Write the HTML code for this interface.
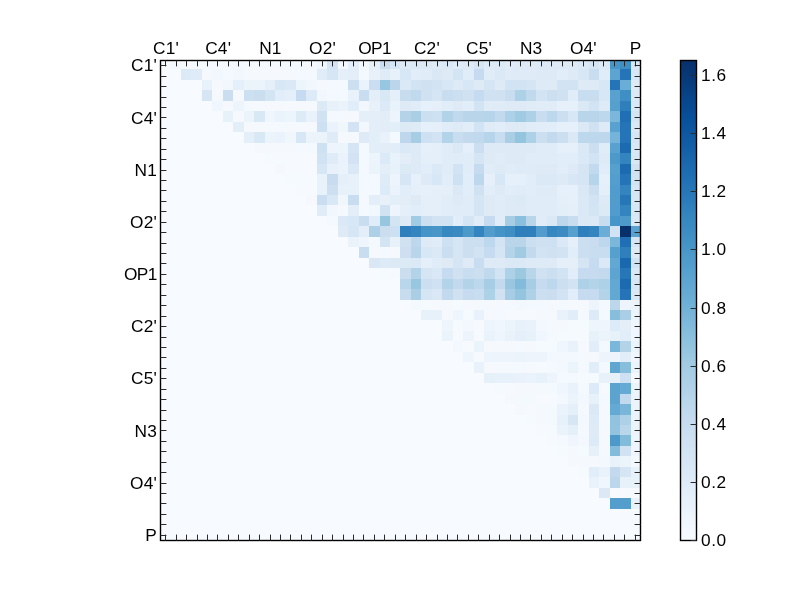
<!DOCTYPE html>
<html><head><meta charset="utf-8"><title>heatmap</title>
<style>
html,body{margin:0;padding:0;background:#fff;}
body{width:800px;height:600px;overflow:hidden;position:relative;font-family:"Liberation Sans",sans-serif;}
svg{position:absolute;left:0;top:0;}
text{font-family:"Liberation Sans",sans-serif;fill:#000;}
</style></head><body>
<svg width="800" height="600" viewBox="0 0 800 600">
<rect x="0" y="0" width="800" height="600" fill="#ffffff"/>
<rect x="160" y="60" width="480" height="480" fill="#f7fbff"/>
<g shape-rendering="crispEdges">
<rect x="170" y="60" width="11" height="9" fill="#f2f8fd"/>
<rect x="181" y="60" width="10" height="9" fill="#f6faff"/>
<rect x="191" y="60" width="11" height="9" fill="#f5f9fe"/>
<rect x="202" y="60" width="10" height="9" fill="#f3f9fe"/>
<rect x="212" y="60" width="11" height="9" fill="#f5f9fe"/>
<rect x="223" y="60" width="10" height="9" fill="#f3f9fe"/>
<rect x="233" y="60" width="11" height="9" fill="#f2f8fd"/>
<rect x="244" y="60" width="31" height="9" fill="#f5f9fe"/>
<rect x="275" y="60" width="31" height="9" fill="#f3f9fe"/>
<rect x="306" y="60" width="11" height="9" fill="#f5f9fe"/>
<rect x="317" y="60" width="10" height="9" fill="#eff6fd"/>
<rect x="327" y="60" width="11" height="9" fill="#d4e4f4"/>
<rect x="338" y="60" width="10" height="9" fill="#f3f9fe"/>
<rect x="348" y="60" width="11" height="9" fill="#e4eff9"/>
<rect x="359" y="60" width="10" height="9" fill="#f3f9fe"/>
<rect x="369" y="60" width="11" height="9" fill="#e6f0f9"/>
<rect x="380" y="60" width="10" height="9" fill="#cadef0"/>
<rect x="390" y="60" width="10" height="9" fill="#d6e6f4"/>
<rect x="400" y="60" width="11" height="9" fill="#deebf7"/>
<rect x="411" y="60" width="21" height="9" fill="#dbe9f6"/>
<rect x="432" y="60" width="10" height="9" fill="#deebf7"/>
<rect x="442" y="60" width="11" height="9" fill="#dbe9f6"/>
<rect x="453" y="60" width="10" height="9" fill="#e0ecf8"/>
<rect x="463" y="60" width="11" height="9" fill="#deebf7"/>
<rect x="474" y="60" width="10" height="9" fill="#d5e5f4"/>
<rect x="484" y="60" width="21" height="9" fill="#deebf7"/>
<rect x="505" y="60" width="10" height="9" fill="#e0ecf8"/>
<rect x="515" y="60" width="63" height="9" fill="#deebf7"/>
<rect x="578" y="60" width="11" height="9" fill="#dbe9f6"/>
<rect x="589" y="60" width="10" height="9" fill="#d5e5f4"/>
<rect x="599" y="60" width="11" height="9" fill="#deebf7"/>
<rect x="610" y="60" width="10" height="9" fill="#4896c9"/>
<rect x="620" y="60" width="11" height="9" fill="#3f8fc5"/>
<rect x="631" y="60" width="9" height="9" fill="#dbe9f6"/>
<rect x="181" y="69" width="10" height="11" fill="#dceaf6"/>
<rect x="191" y="69" width="11" height="11" fill="#dfecf7"/>
<rect x="202" y="69" width="10" height="11" fill="#f5f9fe"/>
<rect x="212" y="69" width="11" height="11" fill="#f1f7fd"/>
<rect x="223" y="69" width="10" height="11" fill="#f3f9fe"/>
<rect x="233" y="69" width="11" height="11" fill="#f1f7fd"/>
<rect x="244" y="69" width="52" height="11" fill="#f5f9fe"/>
<rect x="296" y="69" width="21" height="11" fill="#f3f9fe"/>
<rect x="317" y="69" width="10" height="11" fill="#e0ecf8"/>
<rect x="327" y="69" width="11" height="11" fill="#d6e6f4"/>
<rect x="338" y="69" width="10" height="11" fill="#e4eff9"/>
<rect x="348" y="69" width="11" height="11" fill="#e3eef9"/>
<rect x="359" y="69" width="10" height="11" fill="#f3f9fe"/>
<rect x="369" y="69" width="11" height="11" fill="#e8f1fa"/>
<rect x="380" y="69" width="10" height="11" fill="#dfecf7"/>
<rect x="390" y="69" width="10" height="11" fill="#e7f1fa"/>
<rect x="400" y="69" width="11" height="11" fill="#d8e7f5"/>
<rect x="411" y="69" width="10" height="11" fill="#e1edf8"/>
<rect x="421" y="69" width="11" height="11" fill="#e0ecf8"/>
<rect x="432" y="69" width="10" height="11" fill="#dae8f6"/>
<rect x="442" y="69" width="11" height="11" fill="#deebf7"/>
<rect x="453" y="69" width="10" height="11" fill="#d3e4f3"/>
<rect x="463" y="69" width="11" height="11" fill="#e0ecf8"/>
<rect x="474" y="69" width="10" height="11" fill="#c6dbef"/>
<rect x="484" y="69" width="11" height="11" fill="#e0ecf8"/>
<rect x="495" y="69" width="10" height="11" fill="#dbe9f6"/>
<rect x="505" y="69" width="31" height="11" fill="#dfecf7"/>
<rect x="536" y="69" width="21" height="11" fill="#deebf7"/>
<rect x="557" y="69" width="11" height="11" fill="#e1edf8"/>
<rect x="568" y="69" width="10" height="11" fill="#deebf7"/>
<rect x="578" y="69" width="11" height="11" fill="#d8e7f5"/>
<rect x="589" y="69" width="10" height="11" fill="#c9ddf0"/>
<rect x="599" y="69" width="11" height="11" fill="#e0ecf8"/>
<rect x="610" y="69" width="10" height="11" fill="#5da4d0"/>
<rect x="620" y="69" width="11" height="11" fill="#2474b7"/>
<rect x="631" y="69" width="9" height="11" fill="#d8e7f5"/>
<rect x="202" y="80" width="10" height="10" fill="#e8f2fa"/>
<rect x="212" y="80" width="11" height="10" fill="#f5f9fe"/>
<rect x="223" y="80" width="10" height="10" fill="#f1f7fd"/>
<rect x="233" y="80" width="11" height="10" fill="#e5eff9"/>
<rect x="244" y="80" width="21" height="10" fill="#ebf3fb"/>
<rect x="265" y="80" width="10" height="10" fill="#e5eff9"/>
<rect x="275" y="80" width="10" height="10" fill="#d8e7f5"/>
<rect x="285" y="80" width="11" height="10" fill="#dbe9f6"/>
<rect x="296" y="80" width="10" height="10" fill="#edf5fc"/>
<rect x="306" y="80" width="11" height="10" fill="#f1f7fd"/>
<rect x="317" y="80" width="10" height="10" fill="#f5f9fe"/>
<rect x="327" y="80" width="21" height="10" fill="#f3f9fe"/>
<rect x="348" y="80" width="11" height="10" fill="#ccdff1"/>
<rect x="359" y="80" width="10" height="10" fill="#eaf3fb"/>
<rect x="369" y="80" width="11" height="10" fill="#cbdef1"/>
<rect x="380" y="80" width="10" height="10" fill="#97c6e0"/>
<rect x="390" y="80" width="10" height="10" fill="#bbd6eb"/>
<rect x="400" y="80" width="11" height="10" fill="#dbe9f6"/>
<rect x="411" y="80" width="10" height="10" fill="#d2e3f3"/>
<rect x="421" y="80" width="11" height="10" fill="#d0e1f2"/>
<rect x="432" y="80" width="10" height="10" fill="#d2e3f3"/>
<rect x="442" y="80" width="11" height="10" fill="#d8e7f5"/>
<rect x="453" y="80" width="10" height="10" fill="#deebf7"/>
<rect x="463" y="80" width="11" height="10" fill="#d8e7f5"/>
<rect x="474" y="80" width="10" height="10" fill="#deebf7"/>
<rect x="484" y="80" width="11" height="10" fill="#d5e5f4"/>
<rect x="495" y="80" width="10" height="10" fill="#deebf7"/>
<rect x="505" y="80" width="21" height="10" fill="#d2e3f3"/>
<rect x="526" y="80" width="10" height="10" fill="#d5e5f4"/>
<rect x="536" y="80" width="21" height="10" fill="#deebf7"/>
<rect x="557" y="80" width="21" height="10" fill="#d2e3f3"/>
<rect x="578" y="80" width="21" height="10" fill="#deebf7"/>
<rect x="599" y="80" width="11" height="10" fill="#d8e7f5"/>
<rect x="610" y="80" width="10" height="10" fill="#2474b7"/>
<rect x="620" y="80" width="11" height="10" fill="#6aadd6"/>
<rect x="631" y="80" width="9" height="10" fill="#deebf7"/>
<rect x="202" y="90" width="10" height="11" fill="#d7e6f5"/>
<rect x="212" y="90" width="11" height="11" fill="#f5f9fe"/>
<rect x="223" y="90" width="10" height="11" fill="#cadef0"/>
<rect x="233" y="90" width="11" height="11" fill="#f5f9fe"/>
<rect x="244" y="90" width="10" height="11" fill="#cde0f1"/>
<rect x="254" y="90" width="11" height="11" fill="#cadef0"/>
<rect x="265" y="90" width="10" height="11" fill="#d3e4f3"/>
<rect x="275" y="90" width="10" height="11" fill="#e1edf8"/>
<rect x="285" y="90" width="11" height="11" fill="#e4eff9"/>
<rect x="296" y="90" width="10" height="11" fill="#c6dbef"/>
<rect x="306" y="90" width="11" height="11" fill="#ddeaf7"/>
<rect x="317" y="90" width="10" height="11" fill="#f1f7fd"/>
<rect x="327" y="90" width="21" height="11" fill="#f3f9fe"/>
<rect x="348" y="90" width="11" height="11" fill="#e9f2fb"/>
<rect x="359" y="90" width="10" height="11" fill="#c9ddf0"/>
<rect x="369" y="90" width="11" height="11" fill="#e3eef9"/>
<rect x="380" y="90" width="10" height="11" fill="#d9e8f5"/>
<rect x="390" y="90" width="10" height="11" fill="#e5eff9"/>
<rect x="400" y="90" width="11" height="11" fill="#c7dcef"/>
<rect x="411" y="90" width="10" height="11" fill="#c1d9ed"/>
<rect x="421" y="90" width="11" height="11" fill="#d0e1f2"/>
<rect x="432" y="90" width="10" height="11" fill="#d5e5f4"/>
<rect x="442" y="90" width="11" height="11" fill="#c9ddf0"/>
<rect x="453" y="90" width="10" height="11" fill="#ccdff1"/>
<rect x="463" y="90" width="11" height="11" fill="#d0e1f2"/>
<rect x="474" y="90" width="10" height="11" fill="#c6dbef"/>
<rect x="484" y="90" width="21" height="11" fill="#d0e1f2"/>
<rect x="505" y="90" width="10" height="11" fill="#c9ddf0"/>
<rect x="515" y="90" width="11" height="11" fill="#add1e6"/>
<rect x="526" y="90" width="10" height="11" fill="#c1d9ed"/>
<rect x="536" y="90" width="11" height="11" fill="#d2e3f3"/>
<rect x="547" y="90" width="10" height="11" fill="#ccdff1"/>
<rect x="557" y="90" width="11" height="11" fill="#d0e1f2"/>
<rect x="568" y="90" width="10" height="11" fill="#e0ecf8"/>
<rect x="578" y="90" width="21" height="11" fill="#c9ddf0"/>
<rect x="599" y="90" width="11" height="11" fill="#d8e7f5"/>
<rect x="610" y="90" width="10" height="11" fill="#59a2cf"/>
<rect x="620" y="90" width="11" height="11" fill="#3f8fc5"/>
<rect x="631" y="90" width="9" height="11" fill="#dbe9f6"/>
<rect x="212" y="101" width="11" height="10" fill="#f0f6fd"/>
<rect x="223" y="101" width="10" height="10" fill="#f5f9fe"/>
<rect x="233" y="101" width="11" height="10" fill="#edf5fc"/>
<rect x="244" y="101" width="10" height="10" fill="#f3f9fe"/>
<rect x="254" y="101" width="63" height="10" fill="#f5f9fe"/>
<rect x="317" y="101" width="10" height="10" fill="#dceaf6"/>
<rect x="327" y="101" width="11" height="10" fill="#e8f1fa"/>
<rect x="338" y="101" width="10" height="10" fill="#eaf2fb"/>
<rect x="348" y="101" width="11" height="10" fill="#e1edf8"/>
<rect x="359" y="101" width="10" height="10" fill="#f1f7fd"/>
<rect x="369" y="101" width="11" height="10" fill="#e8f1fa"/>
<rect x="380" y="101" width="10" height="10" fill="#dce9f6"/>
<rect x="390" y="101" width="10" height="10" fill="#e8f2fa"/>
<rect x="400" y="101" width="11" height="10" fill="#deebf7"/>
<rect x="411" y="101" width="10" height="10" fill="#e0ecf8"/>
<rect x="421" y="101" width="11" height="10" fill="#e6f0fa"/>
<rect x="432" y="101" width="10" height="10" fill="#e4eff9"/>
<rect x="442" y="101" width="11" height="10" fill="#e1edf8"/>
<rect x="453" y="101" width="10" height="10" fill="#deebf7"/>
<rect x="463" y="101" width="11" height="10" fill="#e1edf8"/>
<rect x="474" y="101" width="10" height="10" fill="#d2e3f3"/>
<rect x="484" y="101" width="21" height="10" fill="#dfecf7"/>
<rect x="505" y="101" width="21" height="10" fill="#deebf7"/>
<rect x="526" y="101" width="10" height="10" fill="#dfecf7"/>
<rect x="536" y="101" width="21" height="10" fill="#e0ecf8"/>
<rect x="557" y="101" width="21" height="10" fill="#e6f0fa"/>
<rect x="578" y="101" width="11" height="10" fill="#dbe9f6"/>
<rect x="589" y="101" width="10" height="10" fill="#d2e3f3"/>
<rect x="599" y="101" width="11" height="10" fill="#deebf7"/>
<rect x="610" y="101" width="10" height="10" fill="#56a0ce"/>
<rect x="620" y="101" width="11" height="10" fill="#2f7fbc"/>
<rect x="631" y="101" width="9" height="10" fill="#dbe9f6"/>
<rect x="223" y="111" width="10" height="11" fill="#e7f1fa"/>
<rect x="233" y="111" width="11" height="11" fill="#f5f9fe"/>
<rect x="244" y="111" width="10" height="11" fill="#ebf3fb"/>
<rect x="254" y="111" width="11" height="11" fill="#d9e8f5"/>
<rect x="265" y="111" width="10" height="11" fill="#f0f6fd"/>
<rect x="275" y="111" width="10" height="11" fill="#eaf3fb"/>
<rect x="285" y="111" width="11" height="11" fill="#ecf4fc"/>
<rect x="296" y="111" width="10" height="11" fill="#ddebf7"/>
<rect x="306" y="111" width="11" height="11" fill="#e9f2fa"/>
<rect x="317" y="111" width="10" height="11" fill="#d1e2f3"/>
<rect x="327" y="111" width="11" height="11" fill="#f3f9fe"/>
<rect x="338" y="111" width="21" height="11" fill="#f5f9fe"/>
<rect x="359" y="111" width="10" height="11" fill="#e4eff9"/>
<rect x="369" y="111" width="11" height="11" fill="#e3eef9"/>
<rect x="380" y="111" width="10" height="11" fill="#e2edf8"/>
<rect x="390" y="111" width="10" height="11" fill="#edf4fc"/>
<rect x="400" y="111" width="11" height="11" fill="#b4d3e9"/>
<rect x="411" y="111" width="10" height="11" fill="#aacfe5"/>
<rect x="421" y="111" width="11" height="11" fill="#ccdff1"/>
<rect x="432" y="111" width="10" height="11" fill="#cee1f2"/>
<rect x="442" y="111" width="11" height="11" fill="#b3d3e8"/>
<rect x="453" y="111" width="10" height="11" fill="#c1d9ed"/>
<rect x="463" y="111" width="21" height="11" fill="#b9d5ea"/>
<rect x="484" y="111" width="11" height="11" fill="#b7d5ea"/>
<rect x="495" y="111" width="10" height="11" fill="#c3daee"/>
<rect x="505" y="111" width="10" height="11" fill="#add1e6"/>
<rect x="515" y="111" width="11" height="11" fill="#a0cbe2"/>
<rect x="526" y="111" width="10" height="11" fill="#afd1e7"/>
<rect x="536" y="111" width="11" height="11" fill="#c9ddf0"/>
<rect x="547" y="111" width="10" height="11" fill="#bdd7ec"/>
<rect x="557" y="111" width="11" height="11" fill="#ccdff1"/>
<rect x="568" y="111" width="10" height="11" fill="#d8e7f5"/>
<rect x="578" y="111" width="21" height="11" fill="#b9d5ea"/>
<rect x="599" y="111" width="11" height="11" fill="#bdd7ec"/>
<rect x="610" y="111" width="10" height="11" fill="#7bb7d9"/>
<rect x="620" y="111" width="11" height="11" fill="#206fb4"/>
<rect x="631" y="111" width="9" height="11" fill="#d5e5f4"/>
<rect x="233" y="122" width="11" height="10" fill="#e2eef8"/>
<rect x="244" y="122" width="31" height="10" fill="#f5f9fe"/>
<rect x="275" y="122" width="10" height="10" fill="#f3f9fe"/>
<rect x="285" y="122" width="32" height="10" fill="#f5f9fe"/>
<rect x="317" y="122" width="10" height="10" fill="#cee1f2"/>
<rect x="327" y="122" width="11" height="10" fill="#eaf3fb"/>
<rect x="338" y="122" width="10" height="10" fill="#eff6fc"/>
<rect x="348" y="122" width="11" height="10" fill="#d3e3f3"/>
<rect x="359" y="122" width="10" height="10" fill="#f1f7fd"/>
<rect x="369" y="122" width="11" height="10" fill="#e3eef9"/>
<rect x="380" y="122" width="10" height="10" fill="#e2edf8"/>
<rect x="390" y="122" width="10" height="10" fill="#e2eef8"/>
<rect x="400" y="122" width="11" height="10" fill="#dceaf6"/>
<rect x="411" y="122" width="10" height="10" fill="#deebf7"/>
<rect x="421" y="122" width="11" height="10" fill="#e6f0fa"/>
<rect x="432" y="122" width="10" height="10" fill="#e4eff9"/>
<rect x="442" y="122" width="11" height="10" fill="#e0ecf8"/>
<rect x="453" y="122" width="10" height="10" fill="#deebf7"/>
<rect x="463" y="122" width="11" height="10" fill="#e1edf8"/>
<rect x="474" y="122" width="10" height="10" fill="#d2e3f3"/>
<rect x="484" y="122" width="11" height="10" fill="#dfecf7"/>
<rect x="495" y="122" width="10" height="10" fill="#e1edf8"/>
<rect x="505" y="122" width="21" height="10" fill="#deebf7"/>
<rect x="526" y="122" width="10" height="10" fill="#e0ecf8"/>
<rect x="536" y="122" width="21" height="10" fill="#e1edf8"/>
<rect x="557" y="122" width="21" height="10" fill="#e6f0fa"/>
<rect x="578" y="122" width="11" height="10" fill="#dbe9f6"/>
<rect x="589" y="122" width="10" height="10" fill="#d0e1f2"/>
<rect x="599" y="122" width="11" height="10" fill="#deebf7"/>
<rect x="610" y="122" width="10" height="10" fill="#59a2cf"/>
<rect x="620" y="122" width="11" height="10" fill="#2474b7"/>
<rect x="631" y="122" width="9" height="10" fill="#dbe9f6"/>
<rect x="244" y="132" width="10" height="11" fill="#e5eff9"/>
<rect x="254" y="132" width="11" height="11" fill="#d9e8f5"/>
<rect x="265" y="132" width="10" height="11" fill="#ebf3fb"/>
<rect x="275" y="132" width="10" height="11" fill="#eaf3fb"/>
<rect x="285" y="132" width="11" height="11" fill="#eff6fc"/>
<rect x="296" y="132" width="10" height="11" fill="#d7e7f5"/>
<rect x="306" y="132" width="21" height="11" fill="#ebf3fb"/>
<rect x="327" y="132" width="11" height="11" fill="#dfecf7"/>
<rect x="338" y="132" width="21" height="11" fill="#f5f9fe"/>
<rect x="359" y="132" width="10" height="11" fill="#deebf7"/>
<rect x="369" y="132" width="11" height="11" fill="#e2eef8"/>
<rect x="380" y="132" width="10" height="11" fill="#e9f2fa"/>
<rect x="390" y="132" width="10" height="11" fill="#f3f9fe"/>
<rect x="400" y="132" width="11" height="11" fill="#bed7ec"/>
<rect x="411" y="132" width="10" height="11" fill="#a6cde4"/>
<rect x="421" y="132" width="11" height="11" fill="#cee1f2"/>
<rect x="432" y="132" width="10" height="11" fill="#d2e3f3"/>
<rect x="442" y="132" width="11" height="11" fill="#b3d3e8"/>
<rect x="453" y="132" width="10" height="11" fill="#c9ddf0"/>
<rect x="463" y="132" width="11" height="11" fill="#c3daee"/>
<rect x="474" y="132" width="10" height="11" fill="#c1d9ed"/>
<rect x="484" y="132" width="11" height="11" fill="#b7d5ea"/>
<rect x="495" y="132" width="10" height="11" fill="#c9ddf0"/>
<rect x="505" y="132" width="10" height="11" fill="#aacfe5"/>
<rect x="515" y="132" width="11" height="11" fill="#94c5df"/>
<rect x="526" y="132" width="10" height="11" fill="#add1e6"/>
<rect x="536" y="132" width="11" height="11" fill="#ccdff1"/>
<rect x="547" y="132" width="10" height="11" fill="#c3daee"/>
<rect x="557" y="132" width="11" height="11" fill="#ccdff1"/>
<rect x="568" y="132" width="10" height="11" fill="#dbe9f6"/>
<rect x="578" y="132" width="32" height="11" fill="#bdd7ec"/>
<rect x="610" y="132" width="10" height="11" fill="#75b3d8"/>
<rect x="620" y="132" width="11" height="11" fill="#2474b7"/>
<rect x="631" y="132" width="9" height="11" fill="#d5e5f4"/>
<rect x="254" y="143" width="42" height="10" fill="#f5f9fe"/>
<rect x="296" y="143" width="21" height="10" fill="#f3f9fe"/>
<rect x="317" y="143" width="10" height="10" fill="#cee1f2"/>
<rect x="327" y="143" width="11" height="10" fill="#edf4fc"/>
<rect x="338" y="143" width="10" height="10" fill="#ecf4fc"/>
<rect x="348" y="143" width="11" height="10" fill="#d5e5f4"/>
<rect x="359" y="143" width="10" height="10" fill="#f3f9fe"/>
<rect x="369" y="143" width="11" height="10" fill="#e2eef8"/>
<rect x="380" y="143" width="10" height="10" fill="#e2edf8"/>
<rect x="390" y="143" width="10" height="10" fill="#e1edf8"/>
<rect x="400" y="143" width="11" height="10" fill="#dbe9f6"/>
<rect x="411" y="143" width="10" height="10" fill="#deebf7"/>
<rect x="421" y="143" width="11" height="10" fill="#e6f0fa"/>
<rect x="432" y="143" width="10" height="10" fill="#e4eff9"/>
<rect x="442" y="143" width="11" height="10" fill="#e0ecf8"/>
<rect x="453" y="143" width="10" height="10" fill="#dbe9f6"/>
<rect x="463" y="143" width="11" height="10" fill="#e4eff9"/>
<rect x="474" y="143" width="10" height="10" fill="#ccdff1"/>
<rect x="484" y="143" width="52" height="10" fill="#deebf7"/>
<rect x="536" y="143" width="21" height="10" fill="#e0ecf8"/>
<rect x="557" y="143" width="21" height="10" fill="#e6f0fa"/>
<rect x="578" y="143" width="11" height="10" fill="#dbe9f6"/>
<rect x="589" y="143" width="10" height="10" fill="#ccdff1"/>
<rect x="599" y="143" width="11" height="10" fill="#e0ecf8"/>
<rect x="610" y="143" width="10" height="10" fill="#59a2cf"/>
<rect x="620" y="143" width="11" height="10" fill="#1c6bb0"/>
<rect x="631" y="143" width="9" height="10" fill="#d8e7f5"/>
<rect x="265" y="153" width="20" height="11" fill="#f5fafe"/>
<rect x="285" y="153" width="32" height="11" fill="#f6faff"/>
<rect x="317" y="153" width="10" height="11" fill="#d1e2f3"/>
<rect x="327" y="153" width="11" height="11" fill="#dfecf7"/>
<rect x="338" y="153" width="10" height="11" fill="#eaf2fb"/>
<rect x="348" y="153" width="11" height="11" fill="#d3e3f3"/>
<rect x="359" y="153" width="10" height="11" fill="#f3f9fe"/>
<rect x="369" y="153" width="11" height="11" fill="#edf5fc"/>
<rect x="380" y="153" width="10" height="11" fill="#dce9f6"/>
<rect x="390" y="153" width="10" height="11" fill="#e8f2fa"/>
<rect x="400" y="153" width="11" height="11" fill="#e2edf8"/>
<rect x="411" y="153" width="10" height="11" fill="#deebf7"/>
<rect x="421" y="153" width="21" height="11" fill="#e4eff9"/>
<rect x="442" y="153" width="32" height="11" fill="#e0ecf8"/>
<rect x="474" y="153" width="10" height="11" fill="#d5e5f4"/>
<rect x="484" y="153" width="11" height="11" fill="#deebf7"/>
<rect x="495" y="153" width="10" height="11" fill="#e0ecf8"/>
<rect x="505" y="153" width="21" height="11" fill="#deebf7"/>
<rect x="526" y="153" width="31" height="11" fill="#e0ecf8"/>
<rect x="557" y="153" width="21" height="11" fill="#e1edf8"/>
<rect x="578" y="153" width="11" height="11" fill="#dbe9f6"/>
<rect x="589" y="153" width="10" height="11" fill="#d2e3f3"/>
<rect x="599" y="153" width="11" height="11" fill="#deebf7"/>
<rect x="610" y="153" width="10" height="11" fill="#4c99ca"/>
<rect x="620" y="153" width="11" height="11" fill="#3484bf"/>
<rect x="631" y="153" width="9" height="11" fill="#d8e7f5"/>
<rect x="275" y="164" width="10" height="10" fill="#f5f9fe"/>
<rect x="285" y="164" width="32" height="10" fill="#f6faff"/>
<rect x="317" y="164" width="10" height="10" fill="#d6e6f4"/>
<rect x="327" y="164" width="11" height="10" fill="#e8f1fa"/>
<rect x="338" y="164" width="10" height="10" fill="#eaf2fb"/>
<rect x="348" y="164" width="11" height="10" fill="#dbe9f6"/>
<rect x="359" y="164" width="10" height="10" fill="#f3f9fe"/>
<rect x="369" y="164" width="11" height="10" fill="#ebf3fb"/>
<rect x="380" y="164" width="10" height="10" fill="#e3eef9"/>
<rect x="390" y="164" width="10" height="10" fill="#e7f1fa"/>
<rect x="400" y="164" width="11" height="10" fill="#dceaf6"/>
<rect x="411" y="164" width="10" height="10" fill="#deebf7"/>
<rect x="421" y="164" width="11" height="10" fill="#e1edf8"/>
<rect x="432" y="164" width="10" height="10" fill="#dbe9f6"/>
<rect x="442" y="164" width="11" height="10" fill="#e0ecf8"/>
<rect x="453" y="164" width="10" height="10" fill="#d2e3f3"/>
<rect x="463" y="164" width="11" height="10" fill="#e0ecf8"/>
<rect x="474" y="164" width="10" height="10" fill="#c6dbef"/>
<rect x="484" y="164" width="11" height="10" fill="#e0ecf8"/>
<rect x="495" y="164" width="10" height="10" fill="#deebf7"/>
<rect x="505" y="164" width="10" height="10" fill="#e0ecf8"/>
<rect x="515" y="164" width="21" height="10" fill="#dfecf7"/>
<rect x="536" y="164" width="21" height="10" fill="#deebf7"/>
<rect x="557" y="164" width="11" height="10" fill="#e1edf8"/>
<rect x="568" y="164" width="10" height="10" fill="#deebf7"/>
<rect x="578" y="164" width="11" height="10" fill="#d5e5f4"/>
<rect x="589" y="164" width="10" height="10" fill="#c3daee"/>
<rect x="599" y="164" width="11" height="10" fill="#e0ecf8"/>
<rect x="610" y="164" width="10" height="10" fill="#56a0ce"/>
<rect x="620" y="164" width="11" height="10" fill="#1c6bb0"/>
<rect x="631" y="164" width="9" height="10" fill="#d0e1f2"/>
<rect x="285" y="174" width="21" height="11" fill="#f5fafe"/>
<rect x="306" y="174" width="11" height="11" fill="#f6faff"/>
<rect x="317" y="174" width="10" height="11" fill="#e8f2fa"/>
<rect x="327" y="174" width="11" height="11" fill="#c7dcef"/>
<rect x="338" y="174" width="10" height="11" fill="#e5eff9"/>
<rect x="348" y="174" width="11" height="11" fill="#e7f1fa"/>
<rect x="359" y="174" width="21" height="11" fill="#f3f9fe"/>
<rect x="380" y="174" width="10" height="11" fill="#dfecf7"/>
<rect x="390" y="174" width="10" height="11" fill="#edf4fc"/>
<rect x="400" y="174" width="11" height="11" fill="#d6e6f4"/>
<rect x="411" y="174" width="10" height="11" fill="#e6f0fa"/>
<rect x="421" y="174" width="11" height="11" fill="#deebf7"/>
<rect x="432" y="174" width="10" height="11" fill="#d8e7f5"/>
<rect x="442" y="174" width="11" height="11" fill="#e1edf8"/>
<rect x="453" y="174" width="10" height="11" fill="#cee1f2"/>
<rect x="463" y="174" width="11" height="11" fill="#e1edf8"/>
<rect x="474" y="174" width="10" height="11" fill="#bdd7ec"/>
<rect x="484" y="174" width="11" height="11" fill="#e6f0fa"/>
<rect x="495" y="174" width="10" height="11" fill="#d8e7f5"/>
<rect x="505" y="174" width="21" height="11" fill="#e6f0fa"/>
<rect x="526" y="174" width="10" height="11" fill="#e1edf8"/>
<rect x="536" y="174" width="21" height="11" fill="#dbe9f6"/>
<rect x="557" y="174" width="11" height="11" fill="#deebf7"/>
<rect x="568" y="174" width="10" height="11" fill="#d8e7f5"/>
<rect x="578" y="174" width="11" height="11" fill="#d5e5f4"/>
<rect x="589" y="174" width="10" height="11" fill="#b7d5ea"/>
<rect x="599" y="174" width="11" height="11" fill="#e6f0fa"/>
<rect x="610" y="174" width="10" height="11" fill="#549ecd"/>
<rect x="620" y="174" width="11" height="11" fill="#2474b7"/>
<rect x="631" y="174" width="9" height="11" fill="#d2e3f3"/>
<rect x="296" y="185" width="21" height="10" fill="#f6faff"/>
<rect x="317" y="185" width="10" height="10" fill="#e8f2fa"/>
<rect x="327" y="185" width="11" height="10" fill="#cddff1"/>
<rect x="338" y="185" width="21" height="10" fill="#e7f1fa"/>
<rect x="359" y="185" width="21" height="10" fill="#f3f9fe"/>
<rect x="380" y="185" width="10" height="10" fill="#ddeaf7"/>
<rect x="390" y="185" width="10" height="10" fill="#eaf2fb"/>
<rect x="400" y="185" width="11" height="10" fill="#e1edf8"/>
<rect x="411" y="185" width="10" height="10" fill="#e4eff9"/>
<rect x="421" y="185" width="11" height="10" fill="#e6f0fa"/>
<rect x="432" y="185" width="21" height="10" fill="#e4eff9"/>
<rect x="453" y="185" width="10" height="10" fill="#dbe9f6"/>
<rect x="463" y="185" width="11" height="10" fill="#e1edf8"/>
<rect x="474" y="185" width="10" height="10" fill="#d0e1f2"/>
<rect x="484" y="185" width="11" height="10" fill="#e1edf8"/>
<rect x="495" y="185" width="10" height="10" fill="#deebf7"/>
<rect x="505" y="185" width="10" height="10" fill="#e1edf8"/>
<rect x="515" y="185" width="11" height="10" fill="#e0ecf8"/>
<rect x="526" y="185" width="10" height="10" fill="#e1edf8"/>
<rect x="536" y="185" width="21" height="10" fill="#dfecf7"/>
<rect x="557" y="185" width="21" height="10" fill="#e6f0fa"/>
<rect x="578" y="185" width="11" height="10" fill="#dae8f6"/>
<rect x="589" y="185" width="10" height="10" fill="#ccdff1"/>
<rect x="599" y="185" width="11" height="10" fill="#e4eff9"/>
<rect x="610" y="185" width="10" height="10" fill="#519ccc"/>
<rect x="620" y="185" width="11" height="10" fill="#3484bf"/>
<rect x="631" y="185" width="9" height="10" fill="#d7e6f5"/>
<rect x="306" y="195" width="11" height="10" fill="#f5f9fe"/>
<rect x="317" y="195" width="10" height="10" fill="#cbdef1"/>
<rect x="327" y="195" width="11" height="10" fill="#d9e8f5"/>
<rect x="338" y="195" width="10" height="10" fill="#eff6fc"/>
<rect x="348" y="195" width="11" height="10" fill="#c9ddf0"/>
<rect x="359" y="195" width="10" height="10" fill="#f3f9fe"/>
<rect x="369" y="195" width="11" height="10" fill="#e3eef9"/>
<rect x="380" y="195" width="10" height="10" fill="#e8f1fa"/>
<rect x="390" y="195" width="10" height="10" fill="#e2eef8"/>
<rect x="400" y="195" width="11" height="10" fill="#e2edf8"/>
<rect x="411" y="195" width="10" height="10" fill="#deebf7"/>
<rect x="421" y="195" width="21" height="10" fill="#e4eff9"/>
<rect x="442" y="195" width="11" height="10" fill="#e1edf8"/>
<rect x="453" y="195" width="10" height="10" fill="#deebf7"/>
<rect x="463" y="195" width="11" height="10" fill="#e0ecf8"/>
<rect x="474" y="195" width="10" height="10" fill="#d5e5f4"/>
<rect x="484" y="195" width="11" height="10" fill="#deebf7"/>
<rect x="495" y="195" width="10" height="10" fill="#e0ecf8"/>
<rect x="505" y="195" width="10" height="10" fill="#deebf7"/>
<rect x="515" y="195" width="11" height="10" fill="#dceaf6"/>
<rect x="526" y="195" width="31" height="10" fill="#e0ecf8"/>
<rect x="557" y="195" width="11" height="10" fill="#e4eff9"/>
<rect x="568" y="195" width="10" height="10" fill="#e6f0fa"/>
<rect x="578" y="195" width="11" height="10" fill="#dbe9f6"/>
<rect x="589" y="195" width="10" height="10" fill="#d2e3f3"/>
<rect x="599" y="195" width="11" height="10" fill="#deebf7"/>
<rect x="610" y="195" width="10" height="10" fill="#519ccc"/>
<rect x="620" y="195" width="11" height="10" fill="#2777b8"/>
<rect x="631" y="195" width="9" height="10" fill="#d8e7f5"/>
<rect x="317" y="205" width="10" height="11" fill="#e0ecf8"/>
<rect x="327" y="205" width="11" height="11" fill="#f1f7fd"/>
<rect x="338" y="205" width="10" height="11" fill="#f5f9fe"/>
<rect x="348" y="205" width="11" height="11" fill="#e3eef9"/>
<rect x="359" y="205" width="10" height="11" fill="#f3f9fe"/>
<rect x="369" y="205" width="11" height="11" fill="#f0f7fd"/>
<rect x="380" y="205" width="10" height="11" fill="#d1e2f3"/>
<rect x="390" y="205" width="10" height="11" fill="#edf4fc"/>
<rect x="400" y="205" width="11" height="11" fill="#e4eff9"/>
<rect x="411" y="205" width="10" height="11" fill="#e1edf8"/>
<rect x="421" y="205" width="21" height="11" fill="#e4eff9"/>
<rect x="442" y="205" width="11" height="11" fill="#e1edf8"/>
<rect x="453" y="205" width="21" height="11" fill="#e0ecf8"/>
<rect x="474" y="205" width="10" height="11" fill="#d5e5f4"/>
<rect x="484" y="205" width="11" height="11" fill="#deebf7"/>
<rect x="495" y="205" width="10" height="11" fill="#e0ecf8"/>
<rect x="505" y="205" width="21" height="11" fill="#deebf7"/>
<rect x="526" y="205" width="31" height="11" fill="#e0ecf8"/>
<rect x="557" y="205" width="11" height="11" fill="#e2eef8"/>
<rect x="568" y="205" width="10" height="11" fill="#e4eff9"/>
<rect x="578" y="205" width="11" height="11" fill="#dbe9f6"/>
<rect x="589" y="205" width="10" height="11" fill="#d3e4f3"/>
<rect x="599" y="205" width="11" height="11" fill="#dceaf6"/>
<rect x="610" y="205" width="10" height="11" fill="#519ccc"/>
<rect x="620" y="205" width="11" height="11" fill="#3484bf"/>
<rect x="631" y="205" width="9" height="11" fill="#d8e7f5"/>
<rect x="327" y="216" width="11" height="10" fill="#f3f9fe"/>
<rect x="338" y="216" width="10" height="10" fill="#dbe9f6"/>
<rect x="348" y="216" width="11" height="10" fill="#d8e7f5"/>
<rect x="359" y="216" width="10" height="10" fill="#c9ddf0"/>
<rect x="369" y="216" width="11" height="10" fill="#e0ecf8"/>
<rect x="380" y="216" width="10" height="10" fill="#97c6e0"/>
<rect x="390" y="216" width="10" height="10" fill="#d3e4f3"/>
<rect x="400" y="216" width="11" height="10" fill="#deebf7"/>
<rect x="411" y="216" width="10" height="10" fill="#a0cbe2"/>
<rect x="421" y="216" width="11" height="10" fill="#ccdff1"/>
<rect x="432" y="216" width="21" height="10" fill="#d2e3f3"/>
<rect x="453" y="216" width="10" height="10" fill="#e1edf8"/>
<rect x="463" y="216" width="11" height="10" fill="#d5e5f4"/>
<rect x="474" y="216" width="10" height="10" fill="#e0ecf8"/>
<rect x="484" y="216" width="11" height="10" fill="#c6dbef"/>
<rect x="495" y="216" width="10" height="10" fill="#e0ecf8"/>
<rect x="505" y="216" width="10" height="10" fill="#a6cde4"/>
<rect x="515" y="216" width="11" height="10" fill="#8abfdd"/>
<rect x="526" y="216" width="10" height="10" fill="#b9d5ea"/>
<rect x="536" y="216" width="11" height="10" fill="#e0ecf8"/>
<rect x="547" y="216" width="10" height="10" fill="#dbe9f6"/>
<rect x="557" y="216" width="11" height="10" fill="#bdd7ec"/>
<rect x="568" y="216" width="10" height="10" fill="#c9ddf0"/>
<rect x="578" y="216" width="21" height="10" fill="#dbe9f6"/>
<rect x="599" y="216" width="11" height="10" fill="#c9ddf0"/>
<rect x="610" y="216" width="10" height="10" fill="#4896c9"/>
<rect x="620" y="216" width="11" height="10" fill="#4c99ca"/>
<rect x="631" y="216" width="9" height="10" fill="#dae8f6"/>
<rect x="338" y="226" width="10" height="11" fill="#deebf7"/>
<rect x="348" y="226" width="11" height="11" fill="#d6e6f4"/>
<rect x="359" y="226" width="10" height="11" fill="#e3eef8"/>
<rect x="369" y="226" width="11" height="11" fill="#add0e6"/>
<rect x="380" y="226" width="10" height="11" fill="#cadef0"/>
<rect x="390" y="226" width="10" height="11" fill="#cde0f1"/>
<rect x="400" y="226" width="11" height="11" fill="#2f7fbc"/>
<rect x="411" y="226" width="10" height="11" fill="#3484bf"/>
<rect x="421" y="226" width="11" height="11" fill="#4494c7"/>
<rect x="432" y="226" width="10" height="11" fill="#4896c9"/>
<rect x="442" y="226" width="11" height="11" fill="#3787c0"/>
<rect x="453" y="226" width="10" height="11" fill="#3a8ac2"/>
<rect x="463" y="226" width="11" height="11" fill="#4c99ca"/>
<rect x="474" y="226" width="10" height="11" fill="#3484bf"/>
<rect x="484" y="226" width="11" height="11" fill="#519ccc"/>
<rect x="495" y="226" width="10" height="11" fill="#4494c7"/>
<rect x="505" y="226" width="10" height="11" fill="#3f8fc5"/>
<rect x="515" y="226" width="21" height="11" fill="#2f7fbc"/>
<rect x="536" y="226" width="11" height="11" fill="#519ccc"/>
<rect x="547" y="226" width="10" height="11" fill="#3787c0"/>
<rect x="557" y="226" width="11" height="11" fill="#3c8cc3"/>
<rect x="568" y="226" width="10" height="11" fill="#56a0ce"/>
<rect x="578" y="226" width="11" height="11" fill="#2f7fbc"/>
<rect x="589" y="226" width="10" height="11" fill="#3484bf"/>
<rect x="599" y="226" width="11" height="11" fill="#6aadd6"/>
<rect x="610" y="226" width="10" height="11" fill="#d2e3f3"/>
<rect x="620" y="226" width="11" height="11" fill="#08306b"/>
<rect x="631" y="226" width="9" height="11" fill="#59a2cf"/>
<rect x="348" y="237" width="11" height="10" fill="#eaf3fb"/>
<rect x="359" y="237" width="10" height="10" fill="#eef5fc"/>
<rect x="369" y="237" width="11" height="10" fill="#f3f9fe"/>
<rect x="380" y="237" width="10" height="10" fill="#d3e4f3"/>
<rect x="390" y="237" width="10" height="10" fill="#e7f1fa"/>
<rect x="400" y="237" width="11" height="10" fill="#d0e2f2"/>
<rect x="411" y="237" width="10" height="10" fill="#bdd7ec"/>
<rect x="421" y="237" width="11" height="10" fill="#deebf7"/>
<rect x="432" y="237" width="10" height="10" fill="#e0ecf8"/>
<rect x="442" y="237" width="11" height="10" fill="#cee1f2"/>
<rect x="453" y="237" width="10" height="10" fill="#d5e5f4"/>
<rect x="463" y="237" width="21" height="10" fill="#ccdff1"/>
<rect x="484" y="237" width="11" height="10" fill="#bdd7ec"/>
<rect x="495" y="237" width="10" height="10" fill="#d2e3f3"/>
<rect x="505" y="237" width="21" height="10" fill="#b9d5ea"/>
<rect x="526" y="237" width="10" height="10" fill="#ccdff1"/>
<rect x="536" y="237" width="21" height="10" fill="#cee1f2"/>
<rect x="557" y="237" width="11" height="10" fill="#dbe9f6"/>
<rect x="568" y="237" width="10" height="10" fill="#e4eff9"/>
<rect x="578" y="237" width="11" height="10" fill="#ccdff1"/>
<rect x="589" y="237" width="10" height="10" fill="#c9ddf0"/>
<rect x="599" y="237" width="11" height="10" fill="#bdd7ec"/>
<rect x="610" y="237" width="10" height="10" fill="#7bb7d9"/>
<rect x="620" y="237" width="11" height="10" fill="#206fb4"/>
<rect x="631" y="237" width="9" height="10" fill="#d5e5f4"/>
<rect x="359" y="247" width="10" height="11" fill="#c9ddf0"/>
<rect x="369" y="247" width="11" height="11" fill="#f5f9fe"/>
<rect x="380" y="247" width="10" height="11" fill="#f3f9fe"/>
<rect x="390" y="247" width="10" height="11" fill="#f5f9fe"/>
<rect x="400" y="247" width="11" height="11" fill="#cddff1"/>
<rect x="411" y="247" width="10" height="11" fill="#b9d5ea"/>
<rect x="421" y="247" width="11" height="11" fill="#d8e7f5"/>
<rect x="432" y="247" width="10" height="11" fill="#dbe9f6"/>
<rect x="442" y="247" width="11" height="11" fill="#cadef0"/>
<rect x="453" y="247" width="10" height="11" fill="#d5e5f4"/>
<rect x="463" y="247" width="11" height="11" fill="#ccdff1"/>
<rect x="474" y="247" width="10" height="11" fill="#d2e3f3"/>
<rect x="484" y="247" width="11" height="11" fill="#c6dbef"/>
<rect x="495" y="247" width="10" height="11" fill="#d5e5f4"/>
<rect x="505" y="247" width="10" height="11" fill="#b3d3e8"/>
<rect x="515" y="247" width="11" height="11" fill="#a0cbe2"/>
<rect x="526" y="247" width="10" height="11" fill="#c3daee"/>
<rect x="536" y="247" width="11" height="11" fill="#d2e3f3"/>
<rect x="547" y="247" width="10" height="11" fill="#d0e1f2"/>
<rect x="557" y="247" width="11" height="11" fill="#d2e3f3"/>
<rect x="568" y="247" width="10" height="11" fill="#e1edf8"/>
<rect x="578" y="247" width="11" height="11" fill="#ccdff1"/>
<rect x="589" y="247" width="21" height="11" fill="#c9ddf0"/>
<rect x="610" y="247" width="10" height="11" fill="#56a0ce"/>
<rect x="620" y="247" width="11" height="11" fill="#2f7fbc"/>
<rect x="631" y="247" width="9" height="11" fill="#deebf7"/>
<rect x="369" y="258" width="11" height="10" fill="#dae8f6"/>
<rect x="380" y="258" width="10" height="10" fill="#ddeaf7"/>
<rect x="390" y="258" width="21" height="10" fill="#dceaf6"/>
<rect x="411" y="258" width="10" height="10" fill="#dbe9f6"/>
<rect x="421" y="258" width="11" height="10" fill="#e4eff9"/>
<rect x="432" y="258" width="10" height="10" fill="#e0ecf8"/>
<rect x="442" y="258" width="11" height="10" fill="#deebf7"/>
<rect x="453" y="258" width="10" height="10" fill="#d5e5f4"/>
<rect x="463" y="258" width="11" height="10" fill="#deebf7"/>
<rect x="474" y="258" width="10" height="10" fill="#c9ddf0"/>
<rect x="484" y="258" width="21" height="10" fill="#deebf7"/>
<rect x="505" y="258" width="21" height="10" fill="#dbe9f6"/>
<rect x="526" y="258" width="31" height="10" fill="#deebf7"/>
<rect x="557" y="258" width="21" height="10" fill="#e4eff9"/>
<rect x="578" y="258" width="11" height="10" fill="#d5e5f4"/>
<rect x="589" y="258" width="10" height="10" fill="#c6dbef"/>
<rect x="599" y="258" width="11" height="10" fill="#dbe9f6"/>
<rect x="610" y="258" width="10" height="10" fill="#62a8d2"/>
<rect x="620" y="258" width="11" height="10" fill="#1a68ae"/>
<rect x="631" y="258" width="9" height="10" fill="#d2e3f3"/>
<rect x="380" y="268" width="10" height="11" fill="#f5fafe"/>
<rect x="390" y="268" width="10" height="11" fill="#f6faff"/>
<rect x="400" y="268" width="11" height="11" fill="#cadef0"/>
<rect x="411" y="268" width="10" height="11" fill="#b3d3e8"/>
<rect x="421" y="268" width="11" height="11" fill="#d5e5f4"/>
<rect x="432" y="268" width="10" height="11" fill="#dae8f6"/>
<rect x="442" y="268" width="11" height="11" fill="#c6dbef"/>
<rect x="453" y="268" width="10" height="11" fill="#d0e1f2"/>
<rect x="463" y="268" width="11" height="11" fill="#c9ddf0"/>
<rect x="474" y="268" width="10" height="11" fill="#ccdff1"/>
<rect x="484" y="268" width="11" height="11" fill="#c1d9ed"/>
<rect x="495" y="268" width="10" height="11" fill="#d2e3f3"/>
<rect x="505" y="268" width="10" height="11" fill="#add1e6"/>
<rect x="515" y="268" width="11" height="11" fill="#9bc9e0"/>
<rect x="526" y="268" width="10" height="11" fill="#b9d5ea"/>
<rect x="536" y="268" width="11" height="11" fill="#d0e1f2"/>
<rect x="547" y="268" width="10" height="11" fill="#ccdff1"/>
<rect x="557" y="268" width="11" height="11" fill="#d2e3f3"/>
<rect x="568" y="268" width="10" height="11" fill="#e1edf8"/>
<rect x="578" y="268" width="21" height="11" fill="#c6dbef"/>
<rect x="599" y="268" width="11" height="11" fill="#c3daee"/>
<rect x="610" y="268" width="10" height="11" fill="#5da4d0"/>
<rect x="620" y="268" width="11" height="11" fill="#2777b8"/>
<rect x="631" y="268" width="9" height="11" fill="#dbe9f6"/>
<rect x="400" y="279" width="11" height="10" fill="#bad6eb"/>
<rect x="411" y="279" width="10" height="10" fill="#99c7e0"/>
<rect x="421" y="279" width="11" height="10" fill="#ccdff1"/>
<rect x="432" y="279" width="10" height="10" fill="#d0e1f2"/>
<rect x="442" y="279" width="11" height="10" fill="#b3d3e8"/>
<rect x="453" y="279" width="10" height="10" fill="#c3daee"/>
<rect x="463" y="279" width="11" height="10" fill="#b3d3e8"/>
<rect x="474" y="279" width="10" height="10" fill="#bdd7ec"/>
<rect x="484" y="279" width="11" height="10" fill="#a6cde4"/>
<rect x="495" y="279" width="10" height="10" fill="#c3daee"/>
<rect x="505" y="279" width="10" height="10" fill="#99c7e0"/>
<rect x="515" y="279" width="11" height="10" fill="#83bbdb"/>
<rect x="526" y="279" width="10" height="10" fill="#a6cde4"/>
<rect x="536" y="279" width="11" height="10" fill="#c6dbef"/>
<rect x="547" y="279" width="10" height="10" fill="#bdd7ec"/>
<rect x="557" y="279" width="11" height="10" fill="#ccdff1"/>
<rect x="568" y="279" width="10" height="10" fill="#d2e3f3"/>
<rect x="578" y="279" width="11" height="10" fill="#afd1e7"/>
<rect x="589" y="279" width="10" height="10" fill="#b3d3e8"/>
<rect x="599" y="279" width="11" height="10" fill="#add1e6"/>
<rect x="610" y="279" width="10" height="10" fill="#62a8d2"/>
<rect x="620" y="279" width="11" height="10" fill="#1c6bb0"/>
<rect x="631" y="279" width="9" height="10" fill="#d8e7f5"/>
<rect x="400" y="289" width="11" height="11" fill="#c7dcef"/>
<rect x="411" y="289" width="10" height="11" fill="#aacfe5"/>
<rect x="421" y="289" width="11" height="11" fill="#d5e5f4"/>
<rect x="432" y="289" width="10" height="11" fill="#dae8f6"/>
<rect x="442" y="289" width="11" height="11" fill="#c3daee"/>
<rect x="453" y="289" width="10" height="11" fill="#d0e1f2"/>
<rect x="463" y="289" width="11" height="11" fill="#c6dbef"/>
<rect x="474" y="289" width="10" height="11" fill="#c9ddf0"/>
<rect x="484" y="289" width="11" height="11" fill="#add1e6"/>
<rect x="495" y="289" width="10" height="11" fill="#d0e1f2"/>
<rect x="505" y="289" width="10" height="11" fill="#a6cde4"/>
<rect x="515" y="289" width="11" height="11" fill="#94c5df"/>
<rect x="526" y="289" width="10" height="11" fill="#afd1e7"/>
<rect x="536" y="289" width="11" height="11" fill="#ccdff1"/>
<rect x="547" y="289" width="10" height="11" fill="#cadef0"/>
<rect x="557" y="289" width="11" height="11" fill="#d2e3f3"/>
<rect x="568" y="289" width="10" height="11" fill="#e1edf8"/>
<rect x="578" y="289" width="21" height="11" fill="#c6dbef"/>
<rect x="599" y="289" width="11" height="11" fill="#b3d3e8"/>
<rect x="610" y="289" width="10" height="11" fill="#62a8d2"/>
<rect x="620" y="289" width="11" height="11" fill="#2474b7"/>
<rect x="631" y="289" width="9" height="11" fill="#dbe9f6"/>
<rect x="411" y="300" width="10" height="10" fill="#f4f9fe"/>
<rect x="421" y="300" width="11" height="10" fill="#f5fafe"/>
<rect x="432" y="300" width="21" height="10" fill="#f5f9fe"/>
<rect x="453" y="300" width="10" height="10" fill="#f5fafe"/>
<rect x="463" y="300" width="42" height="10" fill="#f5f9fe"/>
<rect x="505" y="300" width="10" height="10" fill="#f3f9fe"/>
<rect x="515" y="300" width="11" height="10" fill="#f2f8fd"/>
<rect x="526" y="300" width="21" height="10" fill="#f3f9fe"/>
<rect x="547" y="300" width="10" height="10" fill="#f5f9fe"/>
<rect x="557" y="300" width="11" height="10" fill="#f3f9fe"/>
<rect x="568" y="300" width="21" height="10" fill="#f5f9fe"/>
<rect x="589" y="300" width="10" height="10" fill="#edf4fc"/>
<rect x="599" y="300" width="11" height="10" fill="#f3f9fe"/>
<rect x="610" y="300" width="10" height="10" fill="#bcd7eb"/>
<rect x="620" y="300" width="11" height="10" fill="#edf4fc"/>
<rect x="631" y="300" width="9" height="10" fill="#ebf4fb"/>
<rect x="421" y="310" width="21" height="10" fill="#e7f1fa"/>
<rect x="442" y="310" width="11" height="10" fill="#f5f9fe"/>
<rect x="453" y="310" width="10" height="10" fill="#eef5fc"/>
<rect x="463" y="310" width="11" height="10" fill="#f5fafe"/>
<rect x="474" y="310" width="10" height="10" fill="#e9f2fb"/>
<rect x="484" y="310" width="11" height="10" fill="#f5f9fe"/>
<rect x="495" y="310" width="10" height="10" fill="#f3f9fe"/>
<rect x="505" y="310" width="31" height="10" fill="#f6faff"/>
<rect x="536" y="310" width="21" height="10" fill="#f5f9fe"/>
<rect x="557" y="310" width="11" height="10" fill="#e9f2fb"/>
<rect x="568" y="310" width="10" height="10" fill="#e1edf8"/>
<rect x="578" y="310" width="11" height="10" fill="#f3f9fe"/>
<rect x="589" y="310" width="10" height="10" fill="#ddeaf7"/>
<rect x="599" y="310" width="11" height="10" fill="#f3f9fe"/>
<rect x="610" y="310" width="10" height="10" fill="#87bedc"/>
<rect x="620" y="310" width="11" height="10" fill="#a9cee5"/>
<rect x="631" y="310" width="9" height="10" fill="#ebf4fb"/>
<rect x="442" y="320" width="11" height="11" fill="#eef5fc"/>
<rect x="453" y="320" width="10" height="11" fill="#f5fafe"/>
<rect x="463" y="320" width="11" height="11" fill="#f2f8fd"/>
<rect x="474" y="320" width="10" height="11" fill="#f6faff"/>
<rect x="484" y="320" width="11" height="11" fill="#edf4fc"/>
<rect x="495" y="320" width="10" height="11" fill="#f0f6fd"/>
<rect x="505" y="320" width="10" height="11" fill="#ebf4fb"/>
<rect x="515" y="320" width="11" height="11" fill="#e7f1fa"/>
<rect x="526" y="320" width="10" height="11" fill="#e9f2fb"/>
<rect x="536" y="320" width="11" height="11" fill="#f2f8fd"/>
<rect x="547" y="320" width="21" height="11" fill="#f5f9fe"/>
<rect x="568" y="320" width="21" height="11" fill="#f5fafe"/>
<rect x="589" y="320" width="21" height="11" fill="#eef5fc"/>
<rect x="610" y="320" width="10" height="11" fill="#ddeaf7"/>
<rect x="620" y="320" width="11" height="11" fill="#e3eef9"/>
<rect x="631" y="320" width="9" height="11" fill="#f0f6fd"/>
<rect x="442" y="331" width="11" height="10" fill="#ebf4fb"/>
<rect x="453" y="331" width="10" height="10" fill="#f6faff"/>
<rect x="463" y="331" width="11" height="10" fill="#edf4fc"/>
<rect x="474" y="331" width="10" height="10" fill="#f6faff"/>
<rect x="484" y="331" width="11" height="10" fill="#eaf3fb"/>
<rect x="495" y="331" width="10" height="10" fill="#eef5fc"/>
<rect x="505" y="331" width="10" height="10" fill="#e9f2fb"/>
<rect x="515" y="331" width="11" height="10" fill="#e4eff9"/>
<rect x="526" y="331" width="10" height="10" fill="#e7f1fa"/>
<rect x="536" y="331" width="11" height="10" fill="#f0f6fd"/>
<rect x="547" y="331" width="10" height="10" fill="#f3f9fe"/>
<rect x="557" y="331" width="32" height="10" fill="#f5fafe"/>
<rect x="589" y="331" width="10" height="10" fill="#e7f1fa"/>
<rect x="599" y="331" width="11" height="10" fill="#ebf4fb"/>
<rect x="610" y="331" width="10" height="10" fill="#e7f1fa"/>
<rect x="620" y="331" width="11" height="10" fill="#e1edf8"/>
<rect x="631" y="331" width="9" height="10" fill="#f0f6fd"/>
<rect x="453" y="341" width="10" height="11" fill="#f2f8fd"/>
<rect x="463" y="341" width="11" height="11" fill="#f6faff"/>
<rect x="474" y="341" width="10" height="11" fill="#ebf4fb"/>
<rect x="484" y="341" width="31" height="11" fill="#f5f9fe"/>
<rect x="515" y="341" width="11" height="11" fill="#f3f9fe"/>
<rect x="526" y="341" width="10" height="11" fill="#f5f9fe"/>
<rect x="536" y="341" width="21" height="11" fill="#f5fafe"/>
<rect x="557" y="341" width="11" height="11" fill="#f0f6fd"/>
<rect x="568" y="341" width="10" height="11" fill="#e9f2fb"/>
<rect x="578" y="341" width="11" height="11" fill="#f5f9fe"/>
<rect x="589" y="341" width="10" height="11" fill="#e1edf8"/>
<rect x="599" y="341" width="11" height="11" fill="#f3f9fe"/>
<rect x="610" y="341" width="10" height="11" fill="#7bb7da"/>
<rect x="620" y="341" width="11" height="11" fill="#b2d3e8"/>
<rect x="631" y="341" width="9" height="11" fill="#ebf4fb"/>
<rect x="463" y="352" width="11" height="10" fill="#eef5fc"/>
<rect x="474" y="352" width="10" height="10" fill="#f6faff"/>
<rect x="484" y="352" width="31" height="10" fill="#edf4fc"/>
<rect x="515" y="352" width="11" height="10" fill="#ebf4fb"/>
<rect x="526" y="352" width="21" height="10" fill="#edf4fc"/>
<rect x="547" y="352" width="31" height="10" fill="#f2f8fd"/>
<rect x="578" y="352" width="21" height="10" fill="#f5f9fe"/>
<rect x="599" y="352" width="21" height="10" fill="#edf4fc"/>
<rect x="620" y="352" width="11" height="10" fill="#e1edf8"/>
<rect x="631" y="352" width="9" height="10" fill="#f0f6fd"/>
<rect x="474" y="362" width="10" height="11" fill="#e9f2fb"/>
<rect x="484" y="362" width="21" height="11" fill="#f5f9fe"/>
<rect x="505" y="362" width="10" height="11" fill="#f4f9fe"/>
<rect x="515" y="362" width="11" height="11" fill="#f3f9fe"/>
<rect x="526" y="362" width="10" height="11" fill="#f5f9fe"/>
<rect x="536" y="362" width="11" height="11" fill="#f5fafe"/>
<rect x="547" y="362" width="10" height="11" fill="#f3f9fe"/>
<rect x="557" y="362" width="11" height="11" fill="#f2f8fd"/>
<rect x="568" y="362" width="10" height="11" fill="#ebf4fb"/>
<rect x="578" y="362" width="11" height="11" fill="#f3f9fe"/>
<rect x="589" y="362" width="10" height="11" fill="#e1edf8"/>
<rect x="599" y="362" width="11" height="11" fill="#f3f9fe"/>
<rect x="610" y="362" width="10" height="11" fill="#5fa6d1"/>
<rect x="620" y="362" width="11" height="11" fill="#87bedc"/>
<rect x="631" y="362" width="9" height="11" fill="#ebf4fb"/>
<rect x="484" y="373" width="11" height="10" fill="#e5f0f9"/>
<rect x="495" y="373" width="20" height="10" fill="#e7f1fa"/>
<rect x="515" y="373" width="11" height="10" fill="#e9f2fb"/>
<rect x="526" y="373" width="10" height="10" fill="#eaf3fb"/>
<rect x="536" y="373" width="11" height="10" fill="#e7f1fa"/>
<rect x="547" y="373" width="10" height="10" fill="#edf4fc"/>
<rect x="557" y="373" width="21" height="10" fill="#f3f9fe"/>
<rect x="578" y="373" width="21" height="10" fill="#f5fafe"/>
<rect x="599" y="373" width="21" height="10" fill="#e7f1fa"/>
<rect x="620" y="373" width="11" height="10" fill="#cee0f2"/>
<rect x="631" y="373" width="9" height="10" fill="#f3f9fe"/>
<rect x="495" y="383" width="10" height="11" fill="#f5fafe"/>
<rect x="505" y="383" width="10" height="11" fill="#f6faff"/>
<rect x="515" y="383" width="21" height="11" fill="#f5f9fe"/>
<rect x="536" y="383" width="21" height="11" fill="#f4f9fe"/>
<rect x="557" y="383" width="11" height="11" fill="#f0f6fd"/>
<rect x="568" y="383" width="10" height="11" fill="#e9f2fb"/>
<rect x="578" y="383" width="11" height="11" fill="#f3f9fe"/>
<rect x="589" y="383" width="10" height="11" fill="#ddeaf7"/>
<rect x="599" y="383" width="11" height="11" fill="#f6faff"/>
<rect x="610" y="383" width="10" height="11" fill="#5ca3d0"/>
<rect x="620" y="383" width="11" height="11" fill="#65aad4"/>
<rect x="631" y="383" width="9" height="11" fill="#ebf4fb"/>
<rect x="505" y="394" width="10" height="10" fill="#f5f9fe"/>
<rect x="515" y="394" width="21" height="10" fill="#f4f9fe"/>
<rect x="536" y="394" width="21" height="10" fill="#f6faff"/>
<rect x="557" y="394" width="11" height="10" fill="#f2f8fd"/>
<rect x="568" y="394" width="10" height="10" fill="#ebf4fb"/>
<rect x="578" y="394" width="11" height="10" fill="#f2f8fd"/>
<rect x="589" y="394" width="10" height="10" fill="#e7f1fa"/>
<rect x="599" y="394" width="11" height="10" fill="#f3f9fe"/>
<rect x="610" y="394" width="10" height="10" fill="#5ca3d0"/>
<rect x="620" y="394" width="11" height="10" fill="#c2d9ee"/>
<rect x="631" y="394" width="9" height="10" fill="#ebf4fb"/>
<rect x="515" y="404" width="11" height="11" fill="#f5f9fe"/>
<rect x="526" y="404" width="10" height="11" fill="#f6faff"/>
<rect x="536" y="404" width="21" height="11" fill="#f4f9fe"/>
<rect x="557" y="404" width="11" height="11" fill="#eaf3fb"/>
<rect x="568" y="404" width="10" height="11" fill="#e4eff9"/>
<rect x="578" y="404" width="11" height="11" fill="#f3f9fe"/>
<rect x="589" y="404" width="10" height="11" fill="#dbe9f6"/>
<rect x="599" y="404" width="11" height="11" fill="#f5f9fe"/>
<rect x="610" y="404" width="10" height="11" fill="#65aad4"/>
<rect x="620" y="404" width="11" height="11" fill="#79b6d9"/>
<rect x="631" y="404" width="9" height="11" fill="#ebf4fb"/>
<rect x="526" y="415" width="10" height="10" fill="#f5fafe"/>
<rect x="536" y="415" width="11" height="10" fill="#f5f9fe"/>
<rect x="547" y="415" width="10" height="10" fill="#f4f9fe"/>
<rect x="557" y="415" width="11" height="10" fill="#e7f1fa"/>
<rect x="568" y="415" width="10" height="10" fill="#d7e6f5"/>
<rect x="578" y="415" width="11" height="10" fill="#f2f8fd"/>
<rect x="589" y="415" width="10" height="10" fill="#ddeaf7"/>
<rect x="599" y="415" width="11" height="10" fill="#f5f9fe"/>
<rect x="610" y="415" width="10" height="10" fill="#91c3de"/>
<rect x="620" y="415" width="11" height="10" fill="#aed1e7"/>
<rect x="631" y="415" width="9" height="10" fill="#ebf4fb"/>
<rect x="536" y="425" width="11" height="10" fill="#f6faff"/>
<rect x="547" y="425" width="10" height="10" fill="#f5fafe"/>
<rect x="557" y="425" width="11" height="10" fill="#eaf3fb"/>
<rect x="568" y="425" width="10" height="10" fill="#e4eff9"/>
<rect x="578" y="425" width="11" height="10" fill="#f3f9fe"/>
<rect x="589" y="425" width="10" height="10" fill="#dfecf7"/>
<rect x="599" y="425" width="11" height="10" fill="#f5f9fe"/>
<rect x="610" y="425" width="10" height="10" fill="#93c4df"/>
<rect x="620" y="425" width="11" height="10" fill="#bad6eb"/>
<rect x="631" y="425" width="9" height="10" fill="#ebf4fb"/>
<rect x="547" y="435" width="10" height="11" fill="#f6faff"/>
<rect x="557" y="435" width="11" height="11" fill="#f3f9fe"/>
<rect x="568" y="435" width="10" height="11" fill="#eef5fc"/>
<rect x="578" y="435" width="11" height="11" fill="#f2f8fd"/>
<rect x="589" y="435" width="10" height="11" fill="#ddeaf7"/>
<rect x="599" y="435" width="11" height="11" fill="#f5f9fe"/>
<rect x="610" y="435" width="10" height="11" fill="#4c99ca"/>
<rect x="620" y="435" width="11" height="11" fill="#83bbdb"/>
<rect x="631" y="435" width="9" height="11" fill="#eef5fc"/>
<rect x="557" y="446" width="11" height="10" fill="#f5fafe"/>
<rect x="568" y="446" width="10" height="10" fill="#f5f9fe"/>
<rect x="578" y="446" width="11" height="10" fill="#f5fafe"/>
<rect x="589" y="446" width="10" height="10" fill="#e5f0f9"/>
<rect x="599" y="446" width="11" height="10" fill="#f5f9fe"/>
<rect x="610" y="446" width="10" height="10" fill="#83bbdb"/>
<rect x="620" y="446" width="11" height="10" fill="#d1e3f3"/>
<rect x="631" y="446" width="9" height="10" fill="#eef5fc"/>
<rect x="568" y="456" width="31" height="11" fill="#f5f9fe"/>
<rect x="599" y="456" width="11" height="11" fill="#f2f8fd"/>
<rect x="610" y="456" width="10" height="11" fill="#e9f2fb"/>
<rect x="620" y="456" width="11" height="11" fill="#ebf4fb"/>
<rect x="631" y="456" width="9" height="11" fill="#f2f8fd"/>
<rect x="578" y="467" width="11" height="10" fill="#f5fafe"/>
<rect x="589" y="467" width="10" height="10" fill="#e1edf8"/>
<rect x="599" y="467" width="11" height="10" fill="#e9f2fb"/>
<rect x="610" y="467" width="10" height="10" fill="#c2d9ee"/>
<rect x="620" y="467" width="11" height="10" fill="#d5e5f4"/>
<rect x="631" y="467" width="9" height="10" fill="#e7f1fa"/>
<rect x="589" y="477" width="10" height="11" fill="#e9f2fb"/>
<rect x="599" y="477" width="11" height="11" fill="#f0f6fd"/>
<rect x="610" y="477" width="10" height="11" fill="#bcd7eb"/>
<rect x="620" y="477" width="20" height="11" fill="#e7f1fa"/>
<rect x="599" y="488" width="11" height="10" fill="#dbe9f6"/>
<rect x="610" y="488" width="30" height="10" fill="#f6faff"/>
<rect x="610" y="498" width="21" height="11" fill="#549ecd"/>
<rect x="631" y="498" width="9" height="11" fill="#e9f2fb"/>
<rect x="620" y="509" width="11" height="10" fill="#f6faff"/>
<rect x="631" y="519" width="9" height="11" fill="#f6faff"/>
</g>
<defs><linearGradient id="cb" x1="0" y1="1" x2="0" y2="0">
<stop offset="0.0000" stop-color="#f7fbff"/>
<stop offset="0.0156" stop-color="#f4f9fe"/>
<stop offset="0.0312" stop-color="#f1f7fd"/>
<stop offset="0.0469" stop-color="#eef5fc"/>
<stop offset="0.0625" stop-color="#eaf3fb"/>
<stop offset="0.0781" stop-color="#e7f1fa"/>
<stop offset="0.0938" stop-color="#e4eff9"/>
<stop offset="0.1094" stop-color="#e1edf8"/>
<stop offset="0.1250" stop-color="#deebf7"/>
<stop offset="0.1406" stop-color="#dbe9f6"/>
<stop offset="0.1562" stop-color="#d8e7f5"/>
<stop offset="0.1719" stop-color="#d5e5f4"/>
<stop offset="0.1875" stop-color="#d2e3f3"/>
<stop offset="0.2031" stop-color="#cfe1f2"/>
<stop offset="0.2188" stop-color="#ccdff1"/>
<stop offset="0.2344" stop-color="#c9ddf0"/>
<stop offset="0.2500" stop-color="#c6dbef"/>
<stop offset="0.2656" stop-color="#c1d9ed"/>
<stop offset="0.2812" stop-color="#bcd7ec"/>
<stop offset="0.2969" stop-color="#b7d5ea"/>
<stop offset="0.3125" stop-color="#b2d2e8"/>
<stop offset="0.3281" stop-color="#add0e6"/>
<stop offset="0.3438" stop-color="#a8cee4"/>
<stop offset="0.3594" stop-color="#a3cce3"/>
<stop offset="0.3750" stop-color="#9ecae1"/>
<stop offset="0.3906" stop-color="#98c6e0"/>
<stop offset="0.4062" stop-color="#91c3de"/>
<stop offset="0.4219" stop-color="#8bc0dd"/>
<stop offset="0.4375" stop-color="#84bcdc"/>
<stop offset="0.4531" stop-color="#7eb8da"/>
<stop offset="0.4688" stop-color="#78b5d9"/>
<stop offset="0.4844" stop-color="#71b2d7"/>
<stop offset="0.5000" stop-color="#6baed6"/>
<stop offset="0.5156" stop-color="#66aad4"/>
<stop offset="0.5312" stop-color="#61a7d2"/>
<stop offset="0.5469" stop-color="#5ca4d0"/>
<stop offset="0.5625" stop-color="#56a0ce"/>
<stop offset="0.5781" stop-color="#519ccc"/>
<stop offset="0.5938" stop-color="#4c99ca"/>
<stop offset="0.6094" stop-color="#4796c8"/>
<stop offset="0.6250" stop-color="#4292c6"/>
<stop offset="0.6406" stop-color="#3e8ec4"/>
<stop offset="0.6562" stop-color="#3a8ac2"/>
<stop offset="0.6719" stop-color="#3686c0"/>
<stop offset="0.6875" stop-color="#3282be"/>
<stop offset="0.7031" stop-color="#2d7dbb"/>
<stop offset="0.7188" stop-color="#2979b9"/>
<stop offset="0.7344" stop-color="#2575b7"/>
<stop offset="0.7500" stop-color="#2171b5"/>
<stop offset="0.7656" stop-color="#1e6db2"/>
<stop offset="0.7812" stop-color="#1b69af"/>
<stop offset="0.7969" stop-color="#1865ac"/>
<stop offset="0.8125" stop-color="#1461a8"/>
<stop offset="0.8281" stop-color="#115da5"/>
<stop offset="0.8438" stop-color="#0e59a2"/>
<stop offset="0.8594" stop-color="#0b559f"/>
<stop offset="0.8750" stop-color="#08519c"/>
<stop offset="0.8906" stop-color="#084d96"/>
<stop offset="0.9062" stop-color="#084990"/>
<stop offset="0.9219" stop-color="#08458a"/>
<stop offset="0.9375" stop-color="#084084"/>
<stop offset="0.9531" stop-color="#083c7d"/>
<stop offset="0.9688" stop-color="#083877"/>
<stop offset="0.9844" stop-color="#083471"/>
<stop offset="1.0000" stop-color="#08306b"/>
</linearGradient></defs>
<rect x="680.5" y="60.5" width="16" height="480" fill="url(#cb)" stroke="#000" stroke-width="1.39"/>
<rect x="160.5" y="60.5" width="480" height="480" fill="none" stroke="#000" stroke-width="1.39"/>
<path d="M165.5 60.5v5.9M165.5 540.5v-5.9M160.5 65.5h5.9M640.5 65.5h-5.9M176.5 60.5v5.9M176.5 540.5v-5.9M160.5 76.5h5.9M640.5 76.5h-5.9M186.5 60.5v5.9M186.5 540.5v-5.9M160.5 86.5h5.9M640.5 86.5h-5.9M197.5 60.5v5.9M197.5 540.5v-5.9M160.5 97.5h5.9M640.5 97.5h-5.9M207.5 60.5v5.9M207.5 540.5v-5.9M160.5 107.5h5.9M640.5 107.5h-5.9M217.5 60.5v5.9M217.5 540.5v-5.9M160.5 117.5h5.9M640.5 117.5h-5.9M228.5 60.5v5.9M228.5 540.5v-5.9M160.5 128.5h5.9M640.5 128.5h-5.9M238.5 60.5v5.9M238.5 540.5v-5.9M160.5 138.5h5.9M640.5 138.5h-5.9M249.5 60.5v5.9M249.5 540.5v-5.9M160.5 149.5h5.9M640.5 149.5h-5.9M259.5 60.5v5.9M259.5 540.5v-5.9M160.5 159.5h5.9M640.5 159.5h-5.9M270.5 60.5v5.9M270.5 540.5v-5.9M160.5 170.5h5.9M640.5 170.5h-5.9M280.5 60.5v5.9M280.5 540.5v-5.9M160.5 180.5h5.9M640.5 180.5h-5.9M290.5 60.5v5.9M290.5 540.5v-5.9M160.5 190.5h5.9M640.5 190.5h-5.9M301.5 60.5v5.9M301.5 540.5v-5.9M160.5 201.5h5.9M640.5 201.5h-5.9M311.5 60.5v5.9M311.5 540.5v-5.9M160.5 211.5h5.9M640.5 211.5h-5.9M322.5 60.5v5.9M322.5 540.5v-5.9M160.5 222.5h5.9M640.5 222.5h-5.9M332.5 60.5v5.9M332.5 540.5v-5.9M160.5 232.5h5.9M640.5 232.5h-5.9M343.5 60.5v5.9M343.5 540.5v-5.9M160.5 243.5h5.9M640.5 243.5h-5.9M353.5 60.5v5.9M353.5 540.5v-5.9M160.5 253.5h5.9M640.5 253.5h-5.9M363.5 60.5v5.9M363.5 540.5v-5.9M160.5 263.5h5.9M640.5 263.5h-5.9M374.5 60.5v5.9M374.5 540.5v-5.9M160.5 274.5h5.9M640.5 274.5h-5.9M384.5 60.5v5.9M384.5 540.5v-5.9M160.5 284.5h5.9M640.5 284.5h-5.9M395.5 60.5v5.9M395.5 540.5v-5.9M160.5 295.5h5.9M640.5 295.5h-5.9M405.5 60.5v5.9M405.5 540.5v-5.9M160.5 305.5h5.9M640.5 305.5h-5.9M416.5 60.5v5.9M416.5 540.5v-5.9M160.5 316.5h5.9M640.5 316.5h-5.9M426.5 60.5v5.9M426.5 540.5v-5.9M160.5 326.5h5.9M640.5 326.5h-5.9M437.5 60.5v5.9M437.5 540.5v-5.9M160.5 337.5h5.9M640.5 337.5h-5.9M447.5 60.5v5.9M447.5 540.5v-5.9M160.5 347.5h5.9M640.5 347.5h-5.9M457.5 60.5v5.9M457.5 540.5v-5.9M160.5 357.5h5.9M640.5 357.5h-5.9M468.5 60.5v5.9M468.5 540.5v-5.9M160.5 368.5h5.9M640.5 368.5h-5.9M478.5 60.5v5.9M478.5 540.5v-5.9M160.5 378.5h5.9M640.5 378.5h-5.9M489.5 60.5v5.9M489.5 540.5v-5.9M160.5 389.5h5.9M640.5 389.5h-5.9M499.5 60.5v5.9M499.5 540.5v-5.9M160.5 399.5h5.9M640.5 399.5h-5.9M510.5 60.5v5.9M510.5 540.5v-5.9M160.5 410.5h5.9M640.5 410.5h-5.9M520.5 60.5v5.9M520.5 540.5v-5.9M160.5 420.5h5.9M640.5 420.5h-5.9M530.5 60.5v5.9M530.5 540.5v-5.9M160.5 430.5h5.9M640.5 430.5h-5.9M541.5 60.5v5.9M541.5 540.5v-5.9M160.5 441.5h5.9M640.5 441.5h-5.9M551.5 60.5v5.9M551.5 540.5v-5.9M160.5 451.5h5.9M640.5 451.5h-5.9M562.5 60.5v5.9M562.5 540.5v-5.9M160.5 462.5h5.9M640.5 462.5h-5.9M572.5 60.5v5.9M572.5 540.5v-5.9M160.5 472.5h5.9M640.5 472.5h-5.9M583.5 60.5v5.9M583.5 540.5v-5.9M160.5 483.5h5.9M640.5 483.5h-5.9M593.5 60.5v5.9M593.5 540.5v-5.9M160.5 493.5h5.9M640.5 493.5h-5.9M603.5 60.5v5.9M603.5 540.5v-5.9M160.5 503.5h5.9M640.5 503.5h-5.9M614.5 60.5v5.9M614.5 540.5v-5.9M160.5 514.5h5.9M640.5 514.5h-5.9M624.5 60.5v5.9M624.5 540.5v-5.9M160.5 524.5h5.9M640.5 524.5h-5.9M635.5 60.5v5.9M635.5 540.5v-5.9M160.5 535.5h5.9M640.5 535.5h-5.9" stroke="#2a2a2a" stroke-width="1" fill="none"/>
<path d="M696.5 540.5h-5.9M696.5 482.5h-5.9M696.5 424.5h-5.9M696.5 366.5h-5.9M696.5 308.5h-5.9M696.5 249.5h-5.9M696.5 191.5h-5.9M696.5 133.5h-5.9M696.5 75.5h-5.9" stroke="#2a2a2a" stroke-width="1" fill="none"/>
<g style="will-change:transform">
<text x="166.0" y="54.3" font-size="17.3" text-anchor="middle" letter-spacing="0.2">C1'</text>
<text x="157" y="71.3" font-size="17.3" text-anchor="end" letter-spacing="0.2">C1'</text>
<text x="218.2" y="54.3" font-size="17.3" text-anchor="middle" letter-spacing="0.2">C4'</text>
<text x="157" y="123.5" font-size="17.3" text-anchor="end" letter-spacing="0.2">C4'</text>
<text x="270.4" y="54.3" font-size="17.3" text-anchor="middle" letter-spacing="0.2">N1</text>
<text x="157" y="175.7" font-size="17.3" text-anchor="end" letter-spacing="0.2">N1</text>
<text x="322.5" y="54.3" font-size="17.3" text-anchor="middle" letter-spacing="0.2">O2'</text>
<text x="157" y="227.8" font-size="17.3" text-anchor="end" letter-spacing="0.2">O2'</text>
<text x="374.7" y="54.3" font-size="17.3" text-anchor="middle" letter-spacing="-0.5">OP1</text>
<text x="157" y="280.0" font-size="17.3" text-anchor="end" letter-spacing="-0.5">OP1</text>
<text x="426.9" y="54.3" font-size="17.3" text-anchor="middle" letter-spacing="0.2">C2'</text>
<text x="157" y="332.2" font-size="17.3" text-anchor="end" letter-spacing="0.2">C2'</text>
<text x="479.1" y="54.3" font-size="17.3" text-anchor="middle" letter-spacing="0.2">C5'</text>
<text x="157" y="384.4" font-size="17.3" text-anchor="end" letter-spacing="0.2">C5'</text>
<text x="531.2" y="54.3" font-size="17.3" text-anchor="middle" letter-spacing="0.2">N3</text>
<text x="157" y="436.5" font-size="17.3" text-anchor="end" letter-spacing="0.2">N3</text>
<text x="583.4" y="54.3" font-size="17.3" text-anchor="middle" letter-spacing="0.2">O4'</text>
<text x="157" y="488.7" font-size="17.3" text-anchor="end" letter-spacing="0.2">O4'</text>
<text x="635.6" y="54.3" font-size="17.3" text-anchor="middle" letter-spacing="0.2">P</text>
<text x="157" y="540.9" font-size="17.3" text-anchor="end" letter-spacing="0.2">P</text>
<text x="701" y="546.0" font-size="17.3" letter-spacing="0.6">0.0</text>
<text x="701" y="487.9" font-size="17.3" letter-spacing="0.6">0.2</text>
<text x="701" y="429.8" font-size="17.3" letter-spacing="0.6">0.4</text>
<text x="701" y="371.7" font-size="17.3" letter-spacing="0.6">0.6</text>
<text x="701" y="313.6" font-size="17.3" letter-spacing="0.6">0.8</text>
<text x="701" y="255.4" font-size="17.3" letter-spacing="0.6">1.0</text>
<text x="701" y="197.3" font-size="17.3" letter-spacing="0.6">1.2</text>
<text x="701" y="139.2" font-size="17.3" letter-spacing="0.6">1.4</text>
<text x="701" y="81.1" font-size="17.3" letter-spacing="0.6">1.6</text>
</g>
</svg></body></html>
